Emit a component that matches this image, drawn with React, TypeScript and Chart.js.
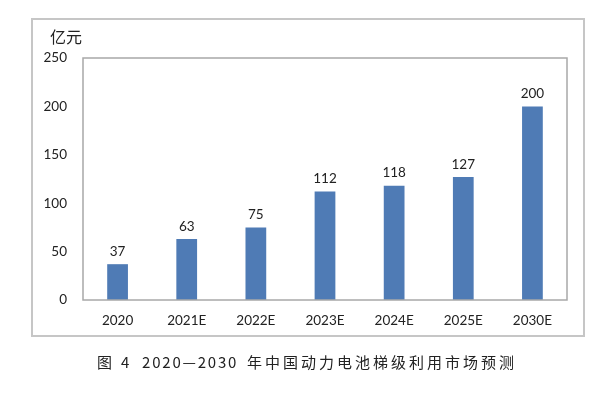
import React, { useEffect, useRef } from "react";
import { Chart, registerables } from "chart.js";

Chart.register(...registerables);

const categories = ["2020", "2021E", "2022E", "2023E", "2024E", "2025E", "2030E"];
const values = [37, 63, 75, 112, 118, 127, 200];
const unitLabel = "亿元";
const captionParts = ["图", "4", "2020—2030", "年中国动力电池梯级利用市场预测"];
const yMax = 250;
const yStep = 50;

const BAR_COLOR = "#4F7BB5";
const TEXT_COLOR = "#222222";
const NUM_FONT = "Lato, 'Open Sans', sans-serif";
const CJK_FONT = "'Noto Sans CJK SC', sans-serif";

const decorPlugin = {
  id: "decor",
  beforeDraw(chart: any) {
    const ctx = chart.ctx;
    ctx.save();
    ctx.fillStyle = "#ffffff";
    ctx.fillRect(0, 0, chart.width, chart.height);
    ctx.restore();
  },
  afterDatasetsDraw(chart: any) {
    const ctx = chart.ctx;
    const a = chart.chartArea;
    ctx.save();
    // plot box
    ctx.strokeStyle = "#a8a8a8";
    ctx.lineWidth = 1.5;
    ctx.strokeRect(a.left, a.top, a.right - a.left, a.bottom - a.top);
    // outer frame
    ctx.strokeStyle = "#c6c6c6";
    ctx.lineWidth = 2;
    ctx.strokeRect(32, 19, 552, 317);
    // value labels
    const meta = chart.getDatasetMeta(0);
    ctx.fillStyle = TEXT_COLOR;
    ctx.font = `13.5px ${NUM_FONT}`;
    ctx.textAlign = "center";
    ctx.textBaseline = "bottom";
    meta.data.forEach((el: any, i: number) => {
      ctx.fillText(String(values[i]), el.x, el.y - 6);
    });
    // unit label
    ctx.font = `16px ${CJK_FONT}`;
    ctx.textAlign = "left";
    ctx.textBaseline = "middle";
    ctx.fillText(unitLabel, 50, 37);
    // caption
    ctx.font = `15px ${CJK_FONT}`;
    ctx.textAlign = "left";
    const xs = [97, 121, 142, 247];
    const spacing = ["0px", "0px", "1.8px", "3px"];
    captionParts.forEach((p, i) => {
      (ctx as any).letterSpacing = spacing[i];
      ctx.fillText(p, xs[i], 362);
    });
    ctx.restore();
  },
};

export default function App() {
  const ref = useRef<HTMLCanvasElement>(null);
  useEffect(() => {
    if (!ref.current) return;
    const chart = new Chart(ref.current, {
      type: "bar",
      data: {
        labels: categories,
        datasets: [
          {
            data: values,
            backgroundColor: BAR_COLOR,
            barPercentage: 0.3,
            categoryPercentage: 1,
          },
        ],
      },
      options: {
        animation: false,
        responsive: false,
        maintainAspectRatio: false,
        layout: { padding: { left: 43, right: 38, top: 58, bottom: 60 } },
        plugins: { legend: { display: false }, tooltip: { enabled: false }, title: { display: false } },
        scales: {
          x: {
            grid: { display: false, drawTicks: false },
            border: { display: false },
            ticks: { color: TEXT_COLOR, font: { family: NUM_FONT, size: 13.5 }, padding: 13, maxRotation: 0 },
            afterFit(scale: any) {
              scale.height = 38;
            },
          },
          y: {
            min: 0,
            max: yMax,
            grid: { display: false, drawTicks: false },
            border: { display: false },
            ticks: { stepSize: yStep, color: TEXT_COLOR, font: { family: NUM_FONT, size: 13.5 }, padding: 16 },
            afterFit(scale: any) {
              scale.width = 40;
            },
          },
        },
      },
      plugins: [decorPlugin],
    });
    return () => chart.destroy();
  }, []);
  return (
    <div style={{ position: "fixed", left: 0, top: 0, width: 605, height: 398 }}>
      <canvas ref={ref} width={605} height={398} style={{ width: 605, height: 398, display: "block" }} />
    </div>
  );
}
